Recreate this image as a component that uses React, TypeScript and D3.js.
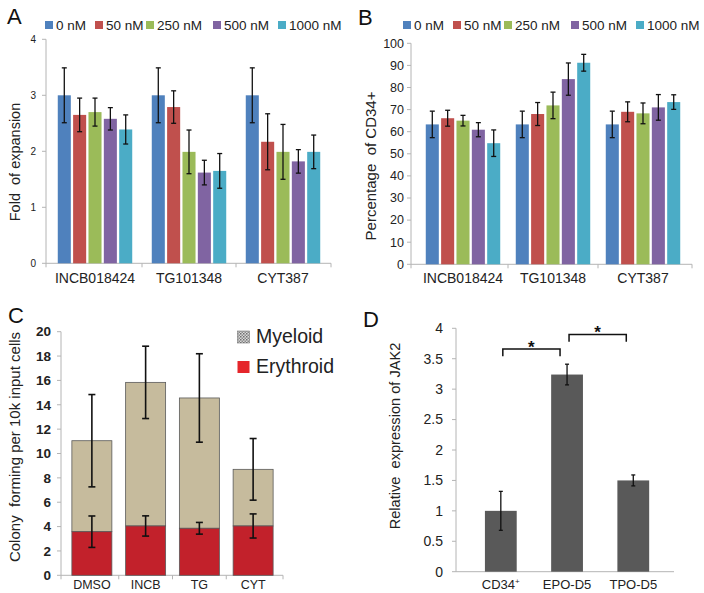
import React from "react";
import * as d3 from "d3";

// ---------- data ----------
const drugs = ["INCB018424", "TG101348", "CYT387"];
const doses = ["0 nM", "50 nM", "250 nM", "500 nM", "1000 nM"];
const doseColors = ["#4f81bd", "#c0504d", "#9bbb59", "#8064a2", "#4bacc6"];

// Panel A: fold of expansion (rows = drug, cols = dose)
const foldMean = [
  [3.0, 2.65, 2.7, 2.58, 2.39],
  [3.0, 2.79, 1.99, 1.62, 1.65],
  [3.0, 2.17, 1.99, 1.82, 1.99],
];
const foldErr = [
  [0.49, 0.3, 0.25, 0.2, 0.26],
  [0.49, 0.29, 0.39, 0.22, 0.31],
  [0.49, 0.5, 0.49, 0.21, 0.3],
];
const foldTicks = [0, 1, 2, 3, 4];

// Panel B: percentage of CD34+
const pctMean = [
  [63.3, 66.1, 65.0, 60.9, 54.8],
  [63.3, 68.0, 71.9, 83.8, 91.2],
  [63.3, 69.0, 68.3, 71.0, 73.4],
];
const pctErr = [
  [6.0, 3.6, 2.4, 3.2, 6.0],
  [6.0, 5.2, 6.0, 7.3, 3.8],
  [6.0, 4.5, 4.7, 5.8, 3.3],
];
const pctTicks = [0, 10, 20, 30, 40, 50, 60, 70, 80, 90, 100];

// Panel C: colony forming
const colonyGroups = ["DMSO", "INCB", "TG", "CYT"];
const erythroid = [3.58, 4.05, 3.86, 4.05];
const erythroidErr = [1.29, 0.83, 0.48, 0.99];
const colonyTotal = [11.05, 15.84, 14.56, 8.7];
const colonyTotalErr = [3.79, 2.97, 3.63, 2.53];
const colonyTicks = [0, 2, 4, 6, 8, 10, 12, 14, 16, 18, 20];
const colonyLegend = ["Myeloid", "Erythroid"];

// Panel D: JAK2 relative expression
const jakGroups = ["CD34", "EPO-D5", "TPO-D5"];
const jakMean = [1.0, 3.24, 1.5];
const jakErr = [0.32, 0.17, 0.09];
const jakTicks = [0, 0.5, 1, 1.5, 2, 2.5, 3, 3.5, 4];
const jakSig = [
  { a: 0, b: 1, y: 3.66 },
  { a: 1, b: 2, y: 3.9 },
];

// ---------- styles ----------
const FONT = "'Liberation Sans', Arial, Helvetica, sans-serif";
const AXIS = "#b4b4b4";

type GroupedProps = {
  yDomain: [number, number];
  yRange: [number, number];
  xRange: [number, number];
  axisX: number;
  axisEnd: number;
  means: number[][];
  errs: number[][];
  ticks: number[];
  tickFont: number;
  tickRight: number;
  title: string;
  titlePos: [number, number];
  yLabel: string;
  yLabelPos: [number, number];
  yLabelSize: number;
  legendX: number;
};

const legendOffsets = [0, 50, 101, 168, 233];

function GroupedPanel(p: GroupedProps) {
  const y = d3.scaleLinear().domain(p.yDomain).range(p.yRange);
  const x0 = d3.scaleBand().domain(drugs).range(p.xRange).padding(0);
  const x1 = d3
    .scaleBand()
    .domain(doses)
    .range([-38, 38])
    .paddingInner(0.15)
    .paddingOuter(0.05);
  const y0 = y(0);
  const boundaries = [p.axisX, ...drugs.slice(1).map((d) => x0(d)!), p.axisEnd];
  return (
    <g>
      <text x={p.titlePos[0]} y={p.titlePos[1]} fontSize={22} fontFamily={FONT} fill="#111">
        {p.title}
      </text>
      {doses.map((d, i) => (
        <g key={d} transform={`translate(${p.legendX + legendOffsets[i]},0)`}>
          <rect x={0} y={21} width={8} height={8} fill={doseColors[i]} />
          <text x={11} y={29.5} fontSize={13.5} fontFamily={FONT} fill="#222">
            {d}
          </text>
        </g>
      ))}
      <line x1={p.axisX} x2={p.axisX} y1={p.yRange[1]} y2={y0} stroke={AXIS} />
      <line x1={p.axisX} x2={p.axisEnd} y1={y0} y2={y0} stroke={AXIS} />
      {p.ticks.map((t) => (
        <g key={t}>
          <line x1={p.axisX - 4} x2={p.axisX} y1={y(t)} y2={y(t)} stroke={AXIS} />
          <text
            x={p.tickRight}
            y={y(t)}
            dy="0.35em"
            textAnchor="end"
            fontSize={p.tickFont}
            fontFamily={FONT}
            fill="#222"
          >
            {t}
          </text>
        </g>
      ))}
      {boundaries.map((b, i) => (
        <line key={i} x1={b} x2={b} y1={y0} y2={y0 + 4} stroke={AXIS} />
      ))}
      {drugs.map((dr, gi) => {
        const cx = x0(dr)! + x0.bandwidth() / 2;
        return (
          <g key={dr}>
            {doses.map((ds, si) => {
              const bx = cx + x1(ds)!;
              const v = p.means[gi][si];
              const e = p.errs[gi][si];
              const mx = bx + x1.bandwidth() / 2;
              return (
                <g key={ds}>
                  <rect
                    x={bx}
                    y={y(v)}
                    width={x1.bandwidth()}
                    height={y0 - y(v)}
                    fill={doseColors[si]}
                  />
                  <line x1={mx} x2={mx} y1={y(v + e)} y2={y(v - e)} stroke="#111" strokeWidth={1.3} />
                  <line x1={mx - 2.5} x2={mx + 2.5} y1={y(v + e)} y2={y(v + e)} stroke="#111" strokeWidth={1.3} />
                  <line x1={mx - 2.5} x2={mx + 2.5} y1={y(v - e)} y2={y(v - e)} stroke="#111" strokeWidth={1.3} />
                </g>
              );
            })}
            <text x={cx} y={283} textAnchor="middle" fontSize={14} fontFamily={FONT} fill="#222">
              {dr}
            </text>
          </g>
        );
      })}
      <text
        transform={`translate(${p.yLabelPos[0]},${p.yLabelPos[1]}) rotate(-90)`}
        textAnchor="middle"
        dy="0.35em"
        fontSize={p.yLabelSize}
        fontFamily={FONT}
        fill="#222"
        style={{ whiteSpace: "pre" }}
      >
        {p.yLabel}
      </text>
    </g>
  );
}

function PanelC() {
  const axisX = 61;
  const axisEnd = 283;
  const y = d3.scaleLinear().domain([0, 20]).range([575.3, 331.7]);
  const x = d3.scaleBand().domain(colonyGroups).range([65, 280]).paddingInner(0.256).paddingOuter(0.128);
  const y0 = y(0);
  const outer = d3.scaleBand().domain(colonyGroups).range([65, 280]);
  const bounds = [axisX, ...colonyGroups.slice(1).map((g) => outer(g)!), axisEnd];
  const err = (cx: number, v: number, e: number, key: string) => (
    <g key={key}>
      <line x1={cx} x2={cx} y1={y(v + e)} y2={y(v - e)} stroke="#111" strokeWidth={1.6} />
      <line x1={cx - 3.5} x2={cx + 3.5} y1={y(v + e)} y2={y(v + e)} stroke="#111" strokeWidth={1.6} />
      <line x1={cx - 3.5} x2={cx + 3.5} y1={y(v - e)} y2={y(v - e)} stroke="#111" strokeWidth={1.6} />
    </g>
  );
  return (
    <g>
      <defs>
        <pattern id="dots" width="3" height="3" patternUnits="userSpaceOnUse">
          <rect width="3" height="3" fill="#d9d9d9" />
          <rect width="1.5" height="1.5" fill="#6e6e6e" />
          <rect x="1.5" y="1.5" width="1.5" height="1.5" fill="#8a8a8a" />
        </pattern>
      </defs>
      <text x={8} y={323} fontSize={22} fontFamily={FONT} fill="#111">C</text>
      <line x1={axisX} x2={axisX} y1={y(20)} y2={y0} stroke={AXIS} />
      <line x1={axisX} x2={axisEnd} y1={y0} y2={y0} stroke={AXIS} />
      {colonyTicks.map((t) => (
        <g key={t}>
          <line x1={axisX - 4} x2={axisX} y1={y(t)} y2={y(t)} stroke={AXIS} />
          <text x={51} y={y(t)} dy="0.35em" textAnchor="end" fontSize={13.5} fontWeight="bold" fontFamily={FONT} fill="#222">
            {t}
          </text>
        </g>
      ))}
      {bounds.map((b, i) => (
        <line key={i} x1={b} x2={b} y1={y0} y2={y0 + 4} stroke={AXIS} />
      ))}
      {colonyGroups.map((g, i) => {
        const bx = x(g)!;
        const w = x.bandwidth();
        const cx = bx + w / 2;
        return (
          <g key={g}>
            <rect x={bx} y={y(colonyTotal[i])} width={w} height={y(erythroid[i]) - y(colonyTotal[i])} fill="#c6bb9d" stroke="#5a5a5a" strokeWidth={0.8} />
            <rect x={bx} y={y(erythroid[i])} width={w} height={y0 - y(erythroid[i])} fill="#c2212b" stroke="#5a5a5a" strokeWidth={0.8} />
            {err(cx, colonyTotal[i], colonyTotalErr[i], "t")}
            {err(cx, erythroid[i], erythroidErr[i], "e")}
            <text x={cx} y={589} textAnchor="middle" fontSize={12.5} fontFamily={FONT} fill="#222">{g}</text>
          </g>
        );
      })}
      <rect x={237.5} y={331} width={12} height={12} fill="url(#dots)" stroke="#777" strokeWidth={0.6} />
      <text x={256} y={342.5} fontSize={19.5} fontFamily={FONT} fill="#222">{colonyLegend[0]}</text>
      <rect x={237.5} y={361} width={12} height={12} fill="#e5262b" />
      <text x={256} y={372.5} fontSize={19.5} fontFamily={FONT} fill="#222">{colonyLegend[1]}</text>
      <text transform="translate(15,447) rotate(-90)" textAnchor="middle" dy="0.35em" fontSize={15} fontFamily={FONT} fill="#222" style={{ whiteSpace: "pre" }}>
        {"Colony  forming per 10k input cells"}
      </text>
    </g>
  );
}

function PanelD() {
  const axisX = 456;
  const axisEnd = 674;
  const y = d3.scaleLinear().domain([0, 4]).range([571.7, 328.3]);
  const x = d3.scaleBand().domain(jakGroups).range([467.7, 666.4]).paddingInner(0.52).paddingOuter(0.26);
  const y0 = y(0);
  const cxOf = (i: number) => x(jakGroups[i])! + x.bandwidth() / 2;
  return (
    <g>
      <text x={363} y={327} fontSize={22} fontFamily={FONT} fill="#111">D</text>
      <line x1={axisX} x2={axisX} y1={y(4)} y2={y0} stroke={AXIS} />
      <line x1={axisX} x2={axisEnd} y1={y0} y2={y0} stroke={AXIS} />
      {jakTicks.map((t) => (
        <g key={t}>
          <line x1={axisX - 4} x2={axisX} y1={y(t)} y2={y(t)} stroke={AXIS} />
          <text x={443} y={y(t)} dy="0.35em" textAnchor="end" fontSize={14} fontFamily={FONT} fill="#222">
            {t}
          </text>
        </g>
      ))}
      {jakGroups.map((g, i) => {
        const bx = x(g)!;
        const cx = cxOf(i);
        const v = jakMean[i];
        const e = jakErr[i];
        return (
          <g key={g}>
            <rect x={bx} y={y(v)} width={x.bandwidth()} height={y0 - y(v)} fill="#595959" />
            <line x1={cx} x2={cx} y1={y(v + e)} y2={y(v - e)} stroke="#111" strokeWidth={1.3} />
            <line x1={cx - 2} x2={cx + 2} y1={y(v + e)} y2={y(v + e)} stroke="#111" strokeWidth={1.3} />
            <line x1={cx - 2} x2={cx + 2} y1={y(v - e)} y2={y(v - e)} stroke="#111" strokeWidth={1.3} />
            <text x={cx} y={589} textAnchor="middle" fontSize={13} fontFamily={FONT} fill="#222">
              {g}
              {i === 0 ? <tspan fontSize={8} dy={-5}>+</tspan> : null}
            </text>
          </g>
        );
      })}
      {jakSig.map((s, i) => {
        const xa = cxOf(s.a) + 2;
        const xb = cxOf(s.b) - 7;
        const yy = y(s.y);
        const yd = y(s.y - 0.12);
        return (
          <g key={i}>
            <path d={`M${xa},${yd}V${yy}H${xb}V${yd}`} fill="none" stroke="#111" strokeWidth={1.5} />
            <text x={(xa + xb) / 2} y={yy + 4} textAnchor="middle" fontSize={17} fontWeight="bold" fontFamily={FONT} fill="#111">*</text>
          </g>
        );
      })}
      <text transform="translate(395,436) rotate(-90)" textAnchor="middle" dy="0.35em" fontSize={14.6} fontFamily={FONT} fill="#222" style={{ whiteSpace: "pre" }}>
        {"Relative  expression of JAK2"}
      </text>
    </g>
  );
}

export default function App() {
  return (
    <svg
      width={704}
      height={593}
      viewBox="0 0 704 593"
      style={{ position: "absolute", left: 0, top: 0, display: "block", background: "#fff" }}
    >
      <rect width={704} height={593} fill="#fff" />
      <GroupedPanel
        yDomain={[0, 4]}
        yRange={[263.3, 39.3]}
        xRange={[48, 330]}
        axisX={46}
        axisEnd={331}
        means={foldMean}
        errs={foldErr}
        ticks={foldTicks}
        tickFont={10}
        tickRight={36}
        title="A"
        titlePos={[7, 24]}
        yLabel={"Fold  of expansion"}
        yLabelPos={[15, 162]}
        yLabelSize={14.5}
        legendX={45}
      />
      <GroupedPanel
        yDomain={[0, 100]}
        yRange={[264.3, 43.3]}
        xRange={[418, 688]}
        axisX={411}
        axisEnd={692}
        means={pctMean}
        errs={pctErr}
        ticks={pctTicks}
        tickFont={12.5}
        tickRight={404}
        title="B"
        titlePos={[358, 25]}
        yLabel={"Percentage  of CD34+"}
        yLabelPos={[371, 166]}
        yLabelSize={15}
        legendX={403}
      />
      <PanelC />
      <PanelD />
    </svg>
  );
}
